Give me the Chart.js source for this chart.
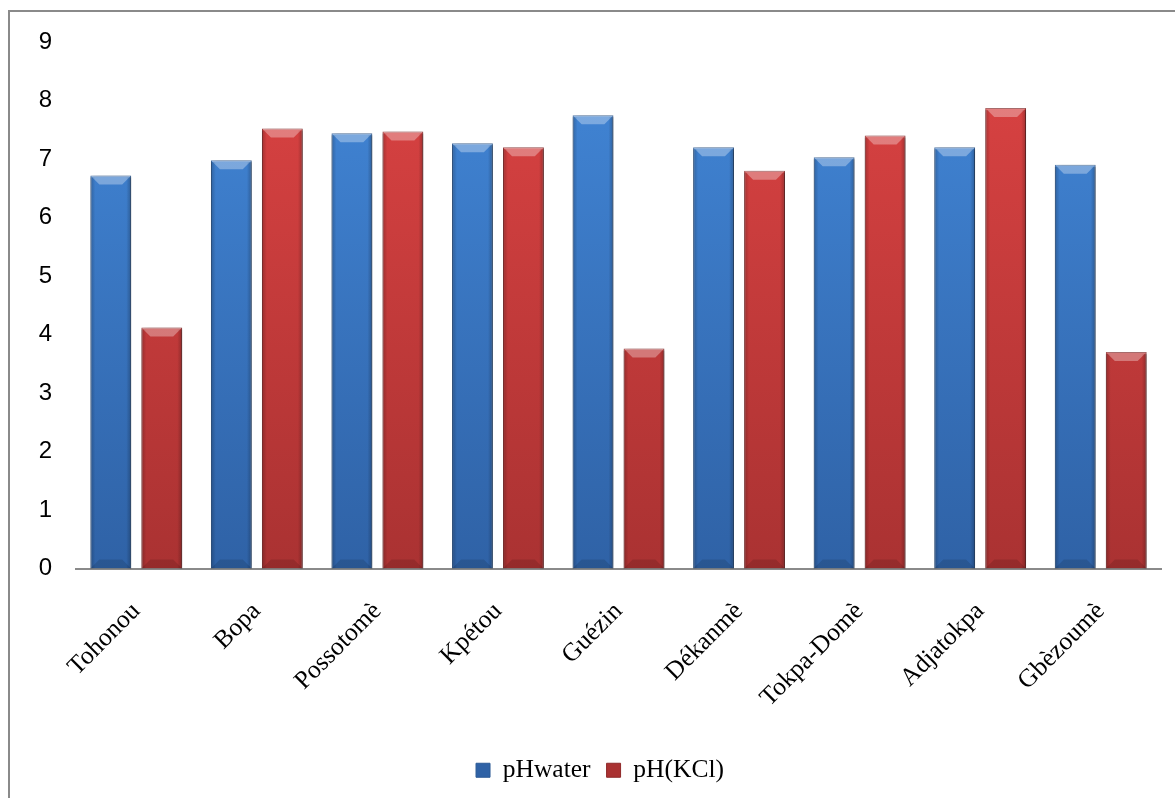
<!DOCTYPE html>
<html>
<head>
<meta charset="utf-8">
<script src="https://cdn.jsdelivr.net/npm/chart.js@4"></script>
<style>
  body { margin: 0; background: #fff; }
  #wrap { position: relative; width: 1175px; height: 798px; overflow: hidden; }
  #frame { position: absolute; left: 8px; top: 10px; width: 1180px; height: 800px; border: 2px solid #8a8a8a; }
  canvas { position: absolute; left: 0; top: 0; }
</style>
</head>
<body>
<div id="wrap">
  <div id="frame"></div>
  <canvas id="phChart" width="1175" height="798"></canvas>
</div>
<script>
const sites = ["Tohonou", "Bopa", "Possotomè", "Kpétou", "Guézin", "Dékanmè", "Tokpa-Domè", "Adjatokpa", "Gbèzoumè"];
const phWater = [6.72, 6.98, 7.44, 7.27, 7.75, 7.2, 7.03, 7.2, 6.9];
const phKcl = [4.12, 7.52, 7.47, 7.2, 3.76, 6.8, 7.4, 7.87, 3.7];
const yTicks = [0, 1, 2, 3, 4, 5, 6, 7, 8, 9];

const serif = "'Liberation Serif', 'Times New Roman', serif";

// vertical gradient across the plot area
function fillFor(top, bottom) {
  return (context) => {
    const area = context.chart.chartArea;
    if (!area) return top;
    const g = context.chart.ctx.createLinearGradient(0, area.top, 0, area.bottom);
    g.addColorStop(0, top);
    g.addColorStop(1, bottom);
    return g;
  };
}

// soft shadow under the bars + bevel shading on top of them
const bevelPlugin = {
  id: "bevel",
  beforeDatasetsDraw(chart) {
    const ctx = chart.ctx;
    ctx.save();
    ctx.shadowColor = "rgba(0,0,0,0.28)";
    ctx.shadowBlur = 6;
    ctx.shadowOffsetX = 3;
    ctx.shadowOffsetY = 0;
  },
  afterDatasetsDraw(chart) {
    const ctx = chart.ctx;
    ctx.restore();
    chart.data.datasets.forEach((ds, i) => {
      const meta = chart.getDatasetMeta(i);
      meta.data.forEach((bar) => {
        const w = bar.width;
        const l = bar.x - w / 2, r = bar.x + w / 2;
        const t = bar.y, b = bar.base;
        const bv = 9;
        ctx.save();
        // top bevel
        ctx.beginPath();
        ctx.moveTo(l, t); ctx.lineTo(r, t); ctx.lineTo(r - bv, t + bv); ctx.lineTo(l + bv, t + bv); ctx.closePath();
        ctx.fillStyle = "rgba(255,255,255,0.32)";
        ctx.fill();
        // side strips
        const sg = ctx.createLinearGradient(l, 0, r, 0);
        sg.addColorStop(0, "rgba(0,0,0,0.22)");
        sg.addColorStop(0.12, "rgba(0,0,0,0)");
        sg.addColorStop(0.88, "rgba(0,0,0,0)");
        sg.addColorStop(1, "rgba(0,0,0,0.25)");
        ctx.fillStyle = sg;
        ctx.fillRect(l, t + 2, w, b - t - 2);
        // bottom bevel
        ctx.beginPath();
        ctx.moveTo(l, b); ctx.lineTo(r, b); ctx.lineTo(r - bv, b - bv); ctx.lineTo(l + bv, b - bv); ctx.closePath();
        ctx.fillStyle = "rgba(0,0,0,0.12)";
        ctx.fill();
        ctx.restore();
      });
    });
  }
};

const ctx = document.getElementById("phChart").getContext("2d");
new Chart(ctx, {
  type: "bar",
  data: {
    labels: sites,
    datasets: [
      {
        label: "pHwater",
        data: phWater,
        backgroundColor: fillFor("#4287d8", "#2f62a6"),
        borderColor: "#2d5b96",
        borderWidth: 1,
        borderSkipped: "bottom",
      },
      {
        label: "pH(KCl)",
        data: phKcl,
        backgroundColor: fillFor("#dc4343", "#aa3232"),
        borderColor: "#8f2a2a",
        borderWidth: 1,
        borderSkipped: "bottom",
      },
    ],
  },
  plugins: [bevelPlugin],
  options: {
    responsive: false,
    animation: false,
    layout: { autoPadding: false, padding: { left: 39, right: 14, top: 42, bottom: 5 } },
    datasets: { bar: { categoryPercentage: 0.846, barPercentage: 0.8 } },
    scales: {
      x: {
        grid: { display: false, drawTicks: false },
        border: { display: true, color: "#8a8a8a", width: 2 },
        ticks: {
          color: "#000",
          font: { family: serif, size: 25.5 },
          maxRotation: 45,
          minRotation: 45,
          padding: 28,
        },
        afterFit: (scale) => {
          scale.height = 173;
        },
      },
      y: {
        min: 0,
        max: 9,
        afterBuildTicks: (axis) => { axis.ticks = yTicks.map((v) => ({ value: v })); },
        grid: { display: false, drawTicks: false },
        border: { display: false },
        ticks: {
          color: "#000",
          font: { family: "'Liberation Sans', Arial, sans-serif", size: 24 },
          padding: 24,
        },
        afterFit: (scale) => {
          scale.width = 37;
        },
      },
    },
    plugins: {
      legend: {
        position: "bottom",
        labels: {
          color: "#000",
          font: { family: serif, size: 25.5 },
          boxWidth: 14,
          boxHeight: 14,
          padding: 16,
        },
      },
      tooltip: { enabled: false },
    },
  },
});
</script>
</body>
</html>
